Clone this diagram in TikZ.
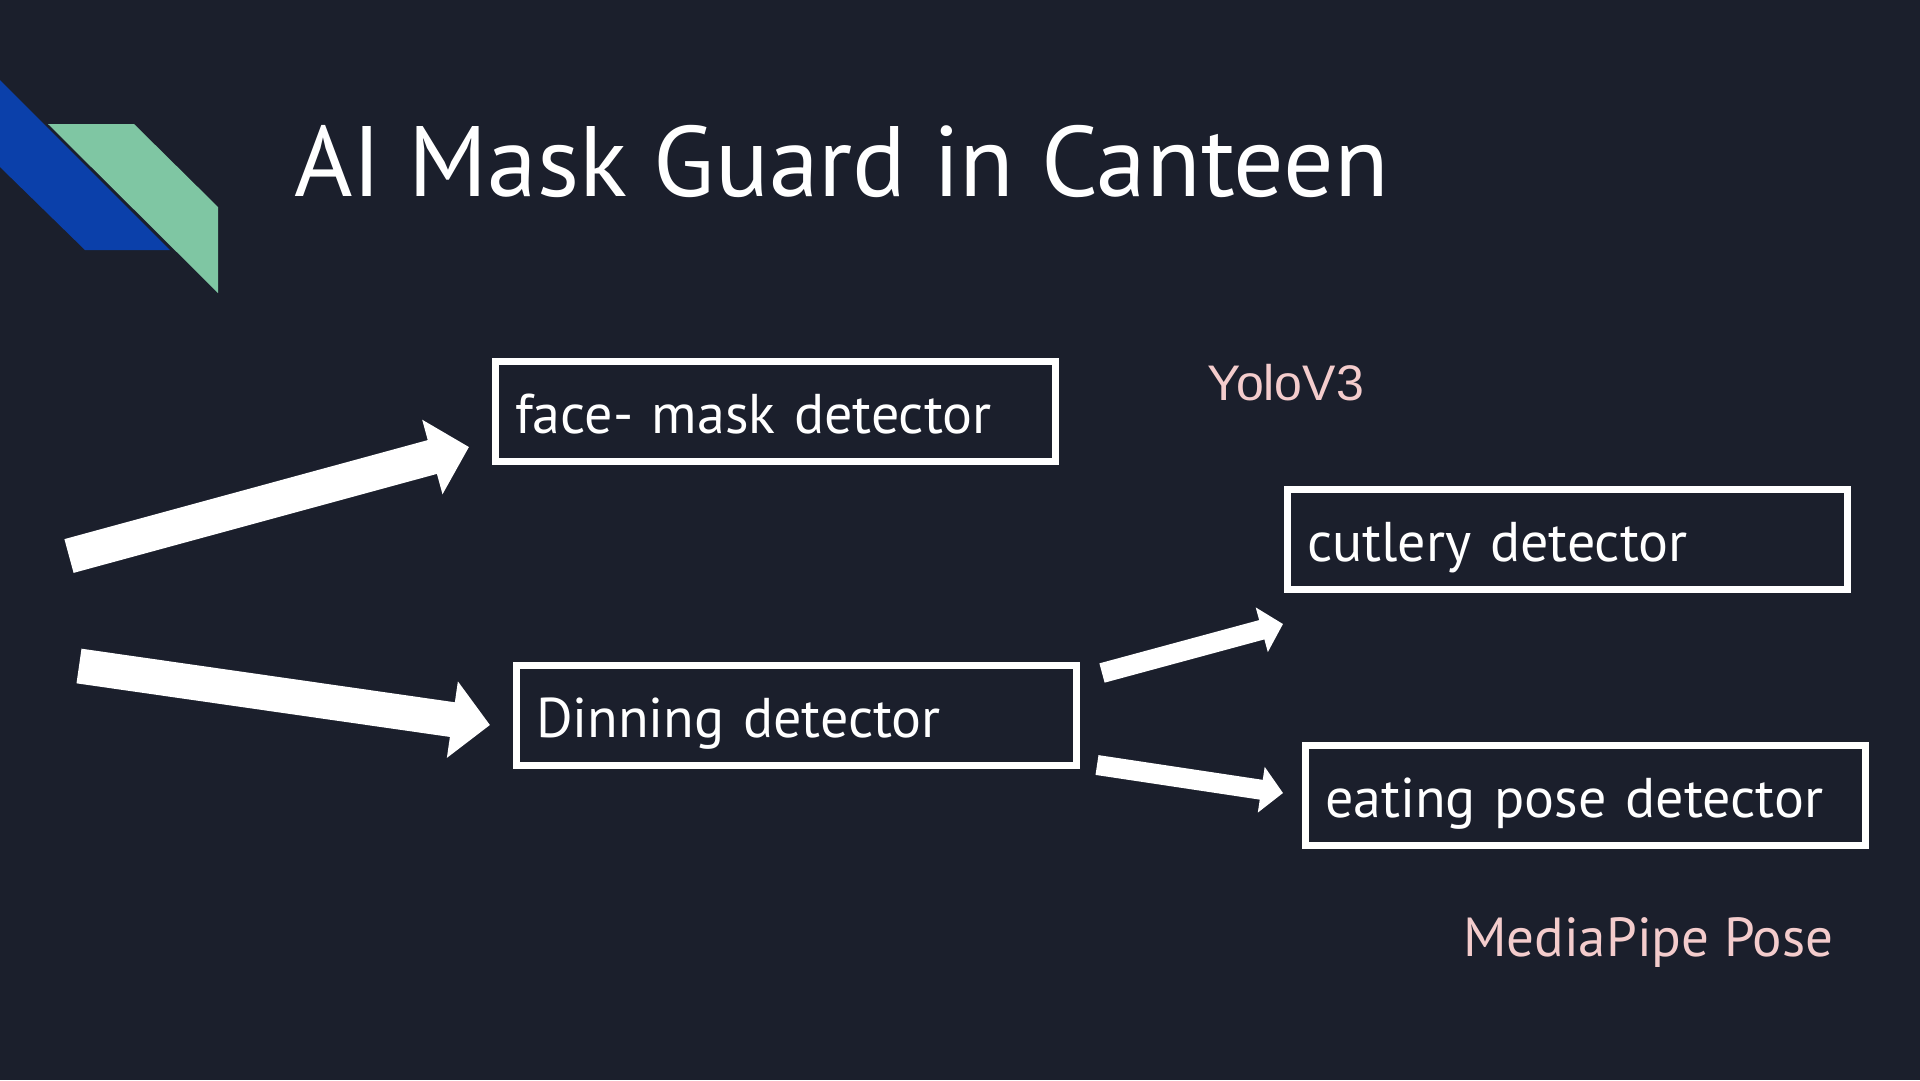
\documentclass[tikz,border=0pt]{standalone}
\usepackage{fontspec}
\setmainfont{PT Sans}
\newfontfamily\arialfont{Liberation Sans}
\usepackage{tikz}
\usetikzlibrary{arrows.meta}
\usetikzlibrary{calc}
\definecolor{fond}{HTML}{1B1F2C}
\definecolor{bleu}{HTML}{0B40AA}
\definecolor{vert}{HTML}{7FC6A3}
\definecolor{rose}{HTML}{F4CCCC}
\tikzstyle{titre}=[anchor=base west,inner sep=0pt,text=white,
        font=\fontsize{100}{110}\selectfont]
\tikzstyle{detecteur}=[
        draw=white,
        line width=7pt,
        rectangle,
        anchor=north west,
        text=white,
        text width=521pt,
        align=left,
        inner xsep=19.5pt,
        inner ysep=10pt,
        text height=61.5pt,
        text depth=18.5pt,
        font=\fontsize{56}{60}\selectfont
]
\tikzstyle{legende}=[anchor=base west,inner sep=0pt,text=rose]
\tikzstyle{grosse}=[white,line width=35pt,-{Triangle[length=38pt,width=75pt]}]
\tikzstyle{petite}=[white,line width=20pt,-{Triangle[length=22pt,width=45pt]}]
\begin{document}
\begin{tikzpicture}[x=1pt,y=-1pt]
\fill[fond] (0,0) rectangle (1920,1080);
\useasboundingbox (0,0) rectangle (1920,1080);
\fill[bleu] (0,80) -- (170,250) -- (85,250) -- (0,167) -- cycle;
\fill[vert] (48,124) -- (134,124) -- (218,207) -- (218,293) -- cycle;
\node[titre] (t) at (294,196) {AI Mask Guard in Canteen};
\node[detecteur] (masque) at (492,358) {face- mask detector};
\node[detecteur] (dinning) at (513,662) {Dinning detector};
\node[detecteur] (couverts) at (1284,486) {cutlery detector};
\node[detecteur] (pose) at (1302,742) {eating pose detector};
\node[legende,font=\arialfont\fontsize{50}{54}\selectfont] (yolo) at (1207,400) {YoloV3};
\node[legende,font=\fontsize{55}{60}\selectfont] (mp) at (1463,956) {MediaPipe Pose};
%Placementdesflèches
\coordinate (e1) at (69,556);
\coordinate (e2) at (79,666);
\coordinate (s1) at ($(dinning.east)+(22,-42.5)$);
\coordinate (s2) at ($(dinning.east)+(17,49.5)$);
\draw[grosse] (e1) -- ($(masque.west)+(-23,35.5)$);
\draw[grosse] (e2) -- ($(dinning.west)+(-23,9.5)$);
\draw[petite] (s1) -- ($(couverts.west)+(-1,84.5)$);
\draw[petite] (s2) -- ($(pose.west)+(-19,-2.5)$);
\end{tikzpicture}
\end{document}
